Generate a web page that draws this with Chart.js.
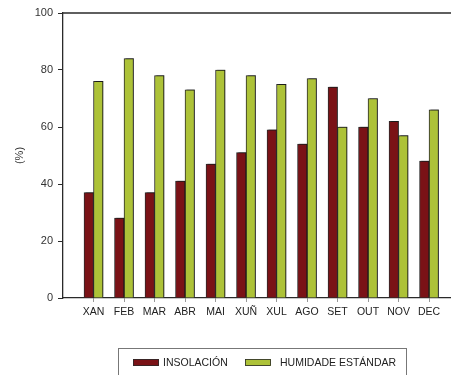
<!DOCTYPE html>
<html>
<head>
<meta charset="utf-8">
<script src="https://cdn.jsdelivr.net/npm/chart.js@4"></script>
<style>
html,body{margin:0;padding:0;background:#fff;}
#wrap{width:451px;height:375px;position:relative;}
</style>
</head>
<body>
<div id="wrap"><canvas id="c" width="451" height="375"></canvas></div>
<script>
const months = ["XAN","FEB","MAR","ABR","MAI","XUÑ","XUL","AGO","SET","OUT","NOV","DEC"];
const insolacion = [37,28,37,41,47,51,59,54,74,60,62,48];
const humidade = [76,84,78,73,80,78,75,77,60,70,57,66];
const seriesNames = ["INSOLACIÓN","HUMIDADE ESTÁNDAR"];
const yTicks = [0,20,40,60,80,100];
const yTitle = "(%)";

const RED = "#7a1216", GREEN = "#adc238", EDGE = "#2a2a2a";
const FONT = "'Liberation Sans', Arial, sans-serif";

const shadowPlugin = {
  id: 'shadow',
  beforeDatasetsDraw(chart){ const c=chart.ctx; c.save(); c.shadowColor='rgba(0,0,0,0.35)'; c.shadowOffsetX=1.5; c.shadowOffsetY=-1; c.shadowBlur=0; },
  afterDatasetsDraw(chart){ chart.ctx.restore(); }
};
const framePlugin = {
  id: 'frame',
  afterDraw(chart){
    const c = chart.ctx, a = chart.chartArea;
    c.save();
    c.strokeStyle = EDGE; c.lineWidth = 1.3;
    c.beginPath(); c.moveTo(a.left, a.top); c.lineTo(a.right, a.top); c.stroke();
    // legend
    c.strokeStyle = '#777'; c.lineWidth = 1;
    c.strokeRect(118.5, 348.5, 288, 40);
    const items = [
      {x:133, tx:163, color:RED},
      {x:245, tx:280, color:GREEN}
    ];
    c.font = "10.5px " + FONT; c.fillStyle = '#222'; c.textBaseline = 'middle';
    items.forEach((it,i)=>{
      c.fillStyle = it.color; c.fillRect(it.x, 359, 26, 7);
      c.strokeStyle = EDGE; c.lineWidth = 0.8; c.strokeRect(it.x+0.5, 359.5, 25, 6);
      c.fillStyle = '#222';
      c.fillText(chart.data.datasets[i].label, it.tx, 363);
    });
    c.restore();
  }
};

new Chart(document.getElementById('c'), {
  type: 'bar',
  data: {
    datasets: [
      { label: seriesNames[0], data: insolacion.map((v,i)=>({x:i,y:v})), backgroundColor: RED, borderColor: EDGE, borderWidth: 1, barThickness: 9.5 },
      { label: seriesNames[1], data: humidade.map((v,i)=>({x:i,y:v})), backgroundColor: GREEN, borderColor: EDGE, borderWidth: 1, barThickness: 9.5 }
    ]
  },
  options: {
    responsive: false,
    animation: false,
    devicePixelRatio: 1,
    layout: { padding: { top: 13, right: 0, bottom: 0, left: 0 } },
    plugins: { legend: { display: false }, tooltip: { enabled: false } },
    scales: {
      x: {
        type: 'linear', min: -1, max: 11.72, offset: false,
        afterBuildTicks: s => { s.ticks = months.map((_,i)=>({value:i})); },
        afterFit: s => { s.height = 77; },
        grid: { offset: false, drawOnChartArea: false, drawTicks: true, tickLength: 4, color: '#999' },
        border: { display: true, color: EDGE, width: 1.3 },
        ticks: { callback: v => months[v], color: '#222', font: { family: FONT, size: 10.5 }, padding: 4, maxRotation: 0, autoSkip: false }
      },
      y: {
        min: 0, max: 100,
        afterBuildTicks: s => { s.ticks = yTicks.map(v=>({value:v})); },
        afterFit: s => { s.width = 63; },
        grid: { drawOnChartArea: false, drawTicks: true, tickLength: 5, color: EDGE },
        border: { display: true, color: EDGE, width: 1.3 },
        ticks: { color: '#333', font: { family: FONT, size: 11 }, padding: 5 },
        title: { display: true, text: yTitle, color: '#333', font: { family: FONT, size: 11 }, padding: { top: 13, bottom: 0 } }
      }
    }
  },
  plugins: [shadowPlugin, framePlugin]
});
</script>
</body>
</html>
